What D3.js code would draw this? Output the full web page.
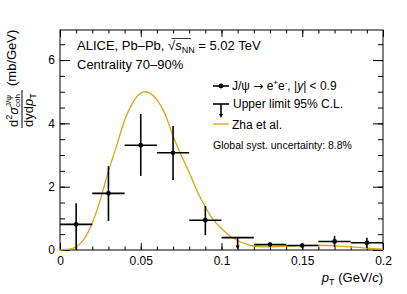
<!DOCTYPE html>
<html>
<head>
<meta charset="utf-8">
<script src="https://cdn.jsdelivr.net/npm/d3@7"></script>
<style>
  body { margin: 0; background: #fff; }
  text { font-family: "Liberation Sans", Arial, sans-serif; fill: #000; }
</style>
</head>
<body>
<svg width="407" height="294"></svg>
<script>
// measured points: bin centre, value, stat. error up/down
var ptBins = [0.01, 0.03, 0.05, 0.07, 0.09, 0.13, 0.15, 0.17, 0.19];
var sigma  = [0.81, 1.79, 3.31, 3.07, 0.94, 0.17, 0.14, 0.27, 0.23];
var errUp  = [0.67, 0.86, 0.99, 0.85, 0.45, 0.07, 0.06, 0.17, 0.16];
var errLo  = [0.81, 0.87, 0.97, 0.86, 0.47, 0.07, 0.06, 0.17, 0.16];
var binHalf = 0.01;

// upper limit bin
var ulBins = [0.11];
var ulValues = [0.39];

// Zha et al. model curve
var modelPt = [0, 0.005, 0.01, 0.015, 0.02, 0.025, 0.03, 0.035, 0.04, 0.045, 0.05, 0.0525,
  0.055, 0.06, 0.065, 0.07, 0.075, 0.08, 0.085, 0.09, 0.095, 0.1, 0.105, 0.11, 0.115,
  0.12, 0.125, 0.13, 0.14, 0.15, 0.16, 0.17, 0.18, 0.19, 0.2];
var modelVal = [0, 0.02, 0.1, 0.35, 0.85, 1.6, 2.5, 3.28, 4.1, 4.65, 4.95, 5.0,
  4.97, 4.75, 4.3, 3.6, 3.0, 2.45, 1.85, 1.36, 0.95, 0.68, 0.45, 0.3, 0.19,
  0.12, 0.1, 0.1, 0.12, 0.14, 0.15, 0.13, 0.1, 0.06, 0.03];

var xTicks = [0, 0.05, 0.1, 0.15, 0.2];
var yTicks = [0, 2, 4, 6];

var svg = d3.select('svg');
var padL = 60, padR = 383, padT = 30, padB = 250;
var gold = '#d8a412';

var x = d3.scaleLinear().domain([0, 0.2]).range([padL, padR]);
var y = d3.scaleLinear().domain([0, 6.95]).range([padB, padT]);

var minorX = d3.range(0, 0.2001, 0.01);
var minorY = d3.range(0, 6.95, 0.5);

// ticks, ROOT style (inward, on all four sides)
function tickAxis(axis, tr) {
  var g = svg.append('g').attr('transform', tr).call(axis);
  g.select('.domain').remove();
  g.selectAll('.tick line').attr('stroke', '#000').attr('stroke-width', 1);
  g.selectAll('.tick text').style('font-family', '"Liberation Sans", Arial, sans-serif')
    .style('font-size', '12px').attr('fill', '#000');
  return g;
}

tickAxis(d3.axisBottom(x).tickValues(minorX).tickSize(-3.5).tickFormat(''), 'translate(0,' + padB + ')');
tickAxis(d3.axisBottom(x).tickValues(xTicks).tickSize(-7).tickPadding(6)
  .tickFormat(function(d) { return d === 0 ? '0' : String(d); }), 'translate(0,' + padB + ')');
tickAxis(d3.axisTop(x).tickValues(minorX).tickSize(-3.5).tickFormat(''), 'translate(0,' + padT + ')');
tickAxis(d3.axisTop(x).tickValues(xTicks).tickSize(-7).tickFormat(''), 'translate(0,' + padT + ')');

tickAxis(d3.axisLeft(y).tickValues(minorY).tickSize(-5).tickFormat(''), 'translate(' + padL + ',0)');
tickAxis(d3.axisLeft(y).tickValues(yTicks).tickSize(-10).tickPadding(5).tickFormat(d3.format('d')), 'translate(' + padL + ',0)');
tickAxis(d3.axisRight(y).tickValues(minorY).tickSize(-5).tickFormat(''), 'translate(' + padR + ',0)');
tickAxis(d3.axisRight(y).tickValues(yTicks).tickSize(-10).tickFormat(''), 'translate(' + padR + ',0)');

// frame
svg.append('rect')
  .attr('x', padL).attr('y', padT)
  .attr('width', padR - padL).attr('height', padB - padT)
  .attr('fill', 'none').attr('stroke', '#000').attr('stroke-width', 1);

// model curve
var line = d3.line()
  .x(function(d, i) { return x(modelPt[i]); })
  .y(function(d) { return y(d); })
  .curve(d3.curveMonotoneX);

svg.append('path')
  .datum(modelVal)
  .attr('d', line)
  .attr('fill', 'none')
  .attr('stroke', gold)
  .attr('stroke-width', 1.3);

// data points
var pts = svg.append('g');
ptBins.forEach(function(p, i) {
  pts.append('line')
    .attr('x1', x(p - binHalf)).attr('x2', x(p + binHalf))
    .attr('y1', y(sigma[i])).attr('y2', y(sigma[i]))
    .attr('stroke', '#000').attr('stroke-width', 1.6);
  pts.append('line')
    .attr('x1', x(p)).attr('x2', x(p))
    .attr('y1', y(sigma[i] + errUp[i])).attr('y2', y(Math.max(0, sigma[i] - errLo[i])))
    .attr('stroke', '#000').attr('stroke-width', 1.6);
  pts.append('circle')
    .attr('cx', x(p)).attr('cy', y(sigma[i])).attr('r', 2.4)
    .attr('fill', '#000');
});

// upper limits
function upperLimit(g, cx, w, yTop, yTip) {
  g.append('line').attr('x1', cx - w).attr('x2', cx + w).attr('y1', yTop).attr('y2', yTop)
    .attr('stroke', '#000').attr('stroke-width', 1.6);
  g.append('line').attr('x1', cx).attr('x2', cx).attr('y1', yTop).attr('y2', yTip - 3)
    .attr('stroke', '#000').attr('stroke-width', 1.6);
  g.append('path')
    .attr('d', 'M' + (cx - 2) + ',' + (yTip - 4) + 'L' + (cx + 2) + ',' + (yTip - 4) + 'L' + cx + ',' + yTip + 'Z')
    .attr('fill', '#000');
}
ulBins.forEach(function(p, i) {
  upperLimit(pts, x(p), x(p + binHalf) - x(p), y(ulValues[i]), y(0) - 0.5);
});

// labels
svg.append('text').attr('x', 77).attr('y', 50).style('font-size', '13px')
  .html('ALICE, Pb–Pb, √<tspan font-style="italic">s</tspan><tspan font-size="9px" dy="3">NN</tspan><tspan dy="-3"> = 5.02 TeV</tspan>');
svg.append('path').attr('d', 'M171.5,38.5H191').attr('stroke', '#000').attr('stroke-width', 0.8);
svg.append('text').attr('x', 77).attr('y', 69).style('font-size', '13px')
  .text('Centrality 70–90%');

// legend
var lg = svg.append('g');
lg.append('line').attr('x1', 213).attr('x2', 229).attr('y1', 86).attr('y2', 86)
  .attr('stroke', '#000').attr('stroke-width', 1.6);
lg.append('circle').attr('cx', 221).attr('cy', 86).attr('r', 2.4).attr('fill', '#000');
lg.append('text').attr('x', 232).attr('y', 90).style('font-size', '12px')
  .html('J/ψ <tspan style="font-family:\'DejaVu Sans\'">→</tspan> e<tspan font-size="8px" dy="-5">+</tspan><tspan dy="5">e</tspan><tspan font-size="8px" dy="-5">-</tspan><tspan dy="5">, |</tspan><tspan font-style="italic">y</tspan>| &lt; 0.9');
upperLimit(lg, 221, 8, 104, 118);
lg.append('text').attr('x', 233).attr('y', 108).style('font-size', '12px')
  .text('Upper limit 95% C.L.');
lg.append('line').attr('x1', 213).attr('x2', 229).attr('y1', 124).attr('y2', 124)
  .attr('stroke', gold).attr('stroke-width', 1.3);
lg.append('text').attr('x', 232).attr('y', 129).style('font-size', '12px')
  .text('Zha et al.');
lg.append('text').attr('x', 213).attr('y', 149).style('font-size', '10.5px')
  .text('Global syst. uncertainty: 8.8%');

// x title
svg.append('text').attr('x', padR).attr('y', 282).attr('text-anchor', 'end')
  .style('font-size', '13px')
  .html('<tspan font-style="italic">p</tspan><tspan font-size="9px" dy="3">T</tspan><tspan dy="-3"> (GeV/</tspan><tspan font-style="italic">c</tspan>)');

// y title: fraction, rotated
var yt = svg.append('g').attr('transform', 'translate(22,128) rotate(-90)');
yt.append('line').attr('x1', 0).attr('x2', 38).attr('y1', 0).attr('y2', 0)
  .attr('stroke', '#000').attr('stroke-width', 1);
yt.append('text').attr('x', 1).attr('y', -4).style('font-size', '13px')
  .html('d<tspan font-size="9px" dy="-6">2</tspan><tspan dy="6" font-style="italic">σ</tspan>');
yt.append('text').attr('x', 21).attr('y', -11).style('font-size', '8px').text('J/ψ');
yt.append('text').attr('x', 21).attr('y', -2).style('font-size', '8px').text('coh');
yt.append('text').attr('x', 1).attr('y', 11).style('font-size', '13px')
  .html('dyd<tspan font-style="italic">p</tspan><tspan font-size="9px" dy="3">T</tspan>');
yt.append('text').attr('x', 42).attr('y', -6).style('font-size', '13px').text('(mb/GeV)');
</script>
</body>
</html>
